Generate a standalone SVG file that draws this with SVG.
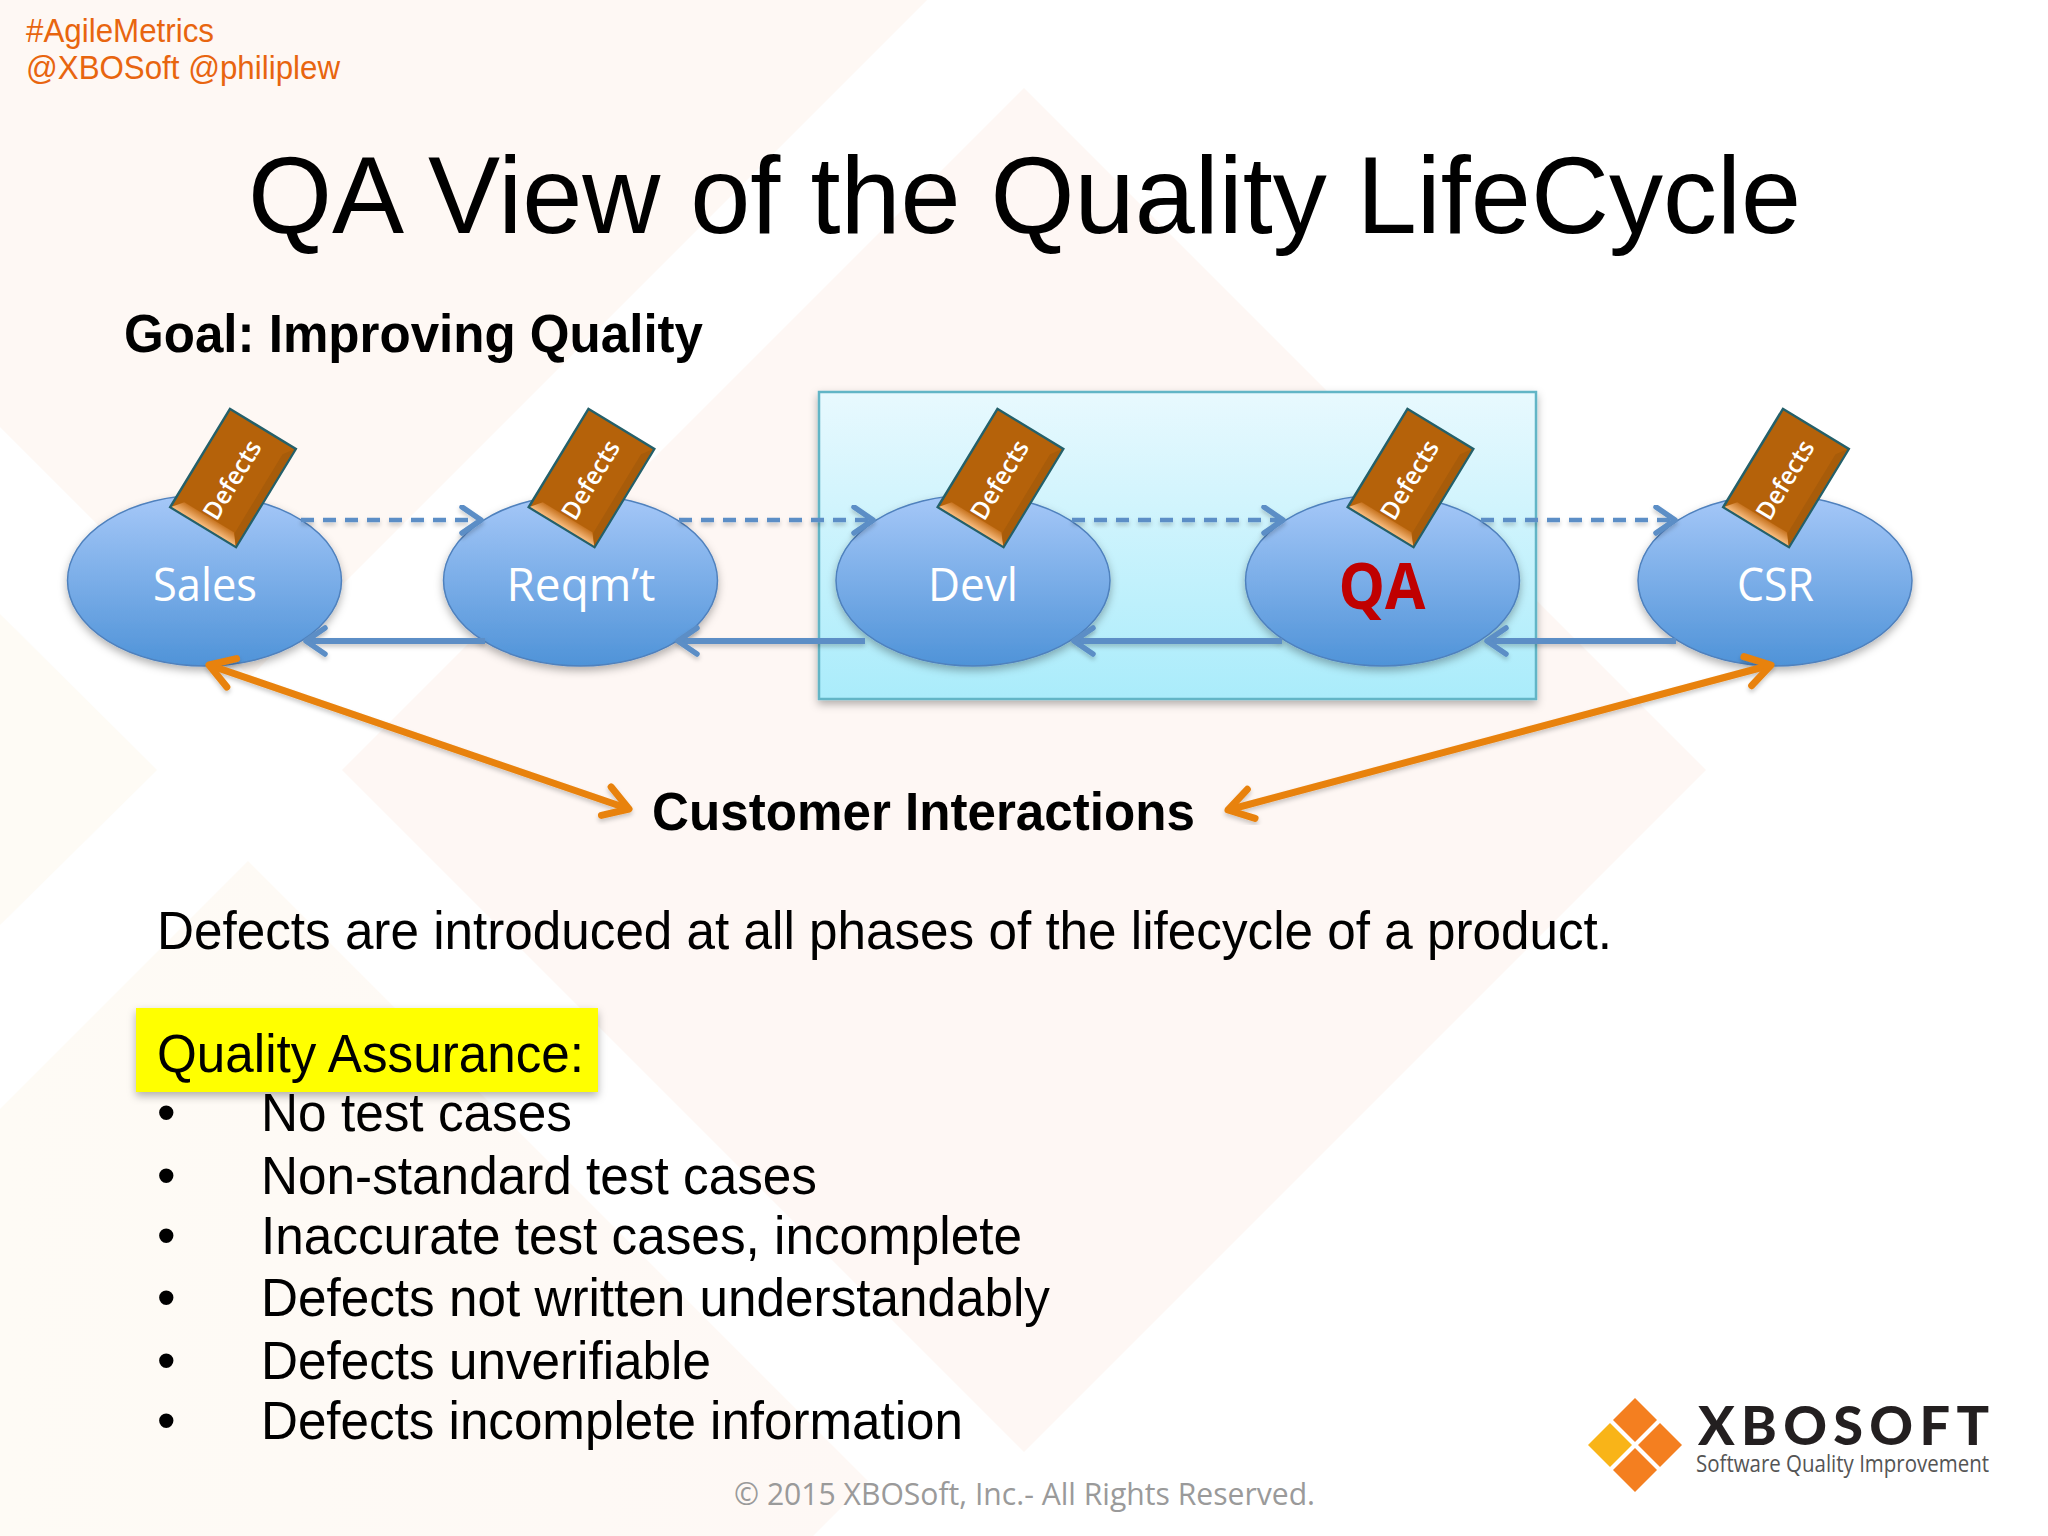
<svg xmlns="http://www.w3.org/2000/svg" width="2048" height="1536" viewBox="0 0 2048 1536">
<style>
.a{font-family:"Liberation Sans",Arial,sans-serif;fill:#000}
.ab{font-family:"Liberation Sans",Arial,sans-serif;font-weight:700;fill:#000}
.b{font-size:53px}
.o{font-family:"Open Sans","Noto Sans",sans-serif}
.oval{fill:url(#ov);stroke:#4f81bd;stroke-width:1.5;filter:url(#sh)}
.lab{font-family:"Open Sans","Noto Sans",sans-serif;font-size:46px;fill:#fff;text-anchor:middle}
.def{font-family:"Open Sans","Noto Sans",sans-serif;font-size:25px;font-weight:600;fill:#fff;text-anchor:middle}
.dash{fill:none;stroke:#5b8ec6;stroke-width:4.5;stroke-dasharray:13 9;marker-end:url(#mb)}
.sol{fill:none;stroke:#5b8ec6;stroke-width:6;marker-end:url(#mb)}
.or{fill:none;stroke:#e8820c;stroke-width:7;marker-start:url(#mo);marker-end:url(#mo)}
</style>
<defs>
<linearGradient id="ov" x1="0" y1="0" x2="0" y2="1"><stop offset="0" stop-color="#a6c8f8"/><stop offset="1" stop-color="#4f93d8"/></linearGradient>
<linearGradient id="bx" x1="0" y1="0" x2="0" y2="1"><stop offset="0" stop-color="#e8f9fe"/><stop offset="1" stop-color="#aaecfb"/></linearGradient>
<linearGradient id="bv" x1="0" y1="0" x2="1" y2="0"><stop offset="0" stop-color="#f8bd80"/><stop offset="1" stop-color="#c87420"/></linearGradient>
<linearGradient id="tint" x1="0" y1="0" x2="1" y2="0"><stop offset="0" stop-color="#fefbf5"/><stop offset="1" stop-color="#fef8f5"/></linearGradient>
<filter id="sh" x="-10%" y="-10%" width="120%" height="125%"><feDropShadow dx="0" dy="4" stdDeviation="4" flood-color="#000" flood-opacity=".3"/></filter>
<filter id="ls" x="-5%" y="-5%" width="110%" height="110%"><feDropShadow dx="0" dy="3" stdDeviation="2" flood-color="#000" flood-opacity=".2"/></filter>
<marker id="mb" markerUnits="userSpaceOnUse" viewBox="-26 -16 30 32" refX="0" refY="0" markerWidth="30" markerHeight="32" orient="auto"><path d="M-19,-13 L0,0 L-19,13" fill="none" stroke="#5b8ec6" stroke-width="5.500" stroke-linejoin="round" stroke-linecap="round"/></marker>
<marker id="mo" markerUnits="userSpaceOnUse" viewBox="-36 -24 42 48" refX="0" refY="0" markerWidth="42" markerHeight="48" orient="auto-start-reverse"><path d="M-24,-15 L0,0 L-24,15" fill="none" stroke="#e8820c" stroke-width="7" stroke-linejoin="round" stroke-linecap="round"/></marker>
<g id="card">
<rect x="-57.500" y="-38.500" width="115" height="77" fill="#b5620a" stroke="#24606a" stroke-width="2.500"/>
<path d="M-56.500,-37.500 L-46,-29 L-46,29 L-56.500,37.500Z" fill="url(#bv)"/>
<path d="M-56.500,37.500 L-46,30 L46,30 L56.500,37.500Z" fill="#a85c0a"/>
</g>
</defs>
<rect width="2048" height="1536" fill="#fff"/>
<g id="background">
<polygon points="0,0 927,0 250,677 0,427" fill="#fef8f4"/>
<polygon points="0,614 157,770 0,925" fill="#fefbf5"/>
<polygon points="1024,88 1706,770 1024,1452 342,770" fill="#fef7f4"/>
<polygon points="248,861 868,1481 813,1536 0,1536 0,1109" fill="url(#tint)"/>
</g>
<g id="header">
<text class="a" x="26" y="42" font-size="33" style="fill:#e8650f" textLength="188" lengthAdjust="spacingAndGlyphs">#AgileMetrics</text>
<text class="a" x="26" y="79" font-size="33" style="fill:#e8650f" textLength="314" lengthAdjust="spacingAndGlyphs">@XBOSoft @philiplew</text>
</g>
<text id="title" class="a" x="248" y="233" font-size="110" textLength="1553" lengthAdjust="spacingAndGlyphs">QA View of the Quality LifeCycle</text>
<text id="goal" class="ab" x="124" y="352" font-size="53" textLength="579" lengthAdjust="spacingAndGlyphs">Goal: Improving Quality</text>
<rect id="scope" x="819" y="392" width="717" height="307" fill="url(#bx)" stroke="#62b5c6" stroke-width="2.500" filter="url(#sh)"/>
<g id="node-sales"><ellipse class="oval" cx="204.500" cy="580.500" rx="137" ry="85.500"/><text class="lab" x="205" y="601" textLength="104" lengthAdjust="spacingAndGlyphs">Sales</text></g>
<g id="node-reqmt"><ellipse class="oval" cx="580.500" cy="580.500" rx="137" ry="85.500"/><text class="lab" x="581" y="601" textLength="149" lengthAdjust="spacingAndGlyphs">Reqm’t</text></g>
<g id="node-devl"><ellipse class="oval" cx="973" cy="580.500" rx="137" ry="85.500"/><text class="lab" x="973" y="601" textLength="90" lengthAdjust="spacingAndGlyphs">Devl</text></g>
<g id="node-qa"><ellipse class="oval" cx="1382.500" cy="580.500" rx="137" ry="85.500"/><text x="1382" y="609" font-family="Open Sans,Noto Sans,sans-serif" font-weight="700" font-size="64" fill="#c00000" text-anchor="middle" textLength="87" lengthAdjust="spacingAndGlyphs">QA</text></g>
<g id="node-csr"><ellipse class="oval" cx="1775" cy="580.500" rx="137" ry="85.500"/><text class="lab" x="1775.500" y="601" textLength="77" lengthAdjust="spacingAndGlyphs">CSR</text></g>
<g id="connectors" filter="url(#ls)">
<path class="dash" d="M301,520H481"/>
<path class="dash" d="M679,520H873"/>
<path class="dash" d="M1072,520H1283"/>
<path class="dash" d="M1481,520H1675"/>
<path class="sol" d="M485,641H306"/>
<path class="sol" d="M865,641H678"/>
<path class="sol" d="M1282,641H1074"/>
<path class="sol" d="M1676,641H1487"/>
<path class="or" d="M209,665L629,809"/>
<path class="or" d="M1771,665L1228,810"/>
</g>
<g id="card-sales" transform="translate(233,478) rotate(-58.700)"><use href="#card"/><text class="def" x="-2" y="9" textLength="88" lengthAdjust="spacingAndGlyphs">Defects</text></g>
<g id="card-reqmt" transform="translate(591.500,478) rotate(-58.700)"><use href="#card"/><text class="def" x="-2" y="9" textLength="88" lengthAdjust="spacingAndGlyphs">Defects</text></g>
<g id="card-devl" transform="translate(1000.500,478) rotate(-58.700)"><use href="#card"/><text class="def" x="-2" y="9" textLength="88" lengthAdjust="spacingAndGlyphs">Defects</text></g>
<g id="card-qa" transform="translate(1410.500,478) rotate(-58.700)"><use href="#card"/><text class="def" x="-2" y="9" textLength="88" lengthAdjust="spacingAndGlyphs">Defects</text></g>
<g id="card-csr" transform="translate(1786,478) rotate(-58.700)"><use href="#card"/><text class="def" x="-2" y="9" textLength="88" lengthAdjust="spacingAndGlyphs">Defects</text></g>
<text id="customer" class="ab" x="652" y="830" font-size="53" textLength="543" lengthAdjust="spacingAndGlyphs">Customer Interactions</text>
<text id="intro" class="a b" x="157" y="949" textLength="1455" lengthAdjust="spacingAndGlyphs">Defects are introduced at all phases of the lifecycle of a product.</text>
<g id="qa-heading">
<rect x="136" y="1008" width="462" height="84" fill="#ffff00" filter="url(#sh)"/>
<text class="a b" x="157" y="1072" textLength="427" lengthAdjust="spacingAndGlyphs">Quality Assurance:</text>
</g>
<g id="bullets">
<text class="a b" x="157" y="1131">•</text><text class="a b" x="261" y="1131" textLength="311" lengthAdjust="spacingAndGlyphs">No test cases</text>
<text class="a b" x="157" y="1194">•</text><text class="a b" x="261" y="1194" textLength="556" lengthAdjust="spacingAndGlyphs">Non-standard test cases</text>
<text class="a b" x="157" y="1254">•</text><text class="a b" x="261" y="1254" textLength="761" lengthAdjust="spacingAndGlyphs">Inaccurate test cases, incomplete</text>
<text class="a b" x="157" y="1316">•</text><text class="a b" x="261" y="1316" textLength="789" lengthAdjust="spacingAndGlyphs">Defects not written understandably</text>
<text class="a b" x="157" y="1379">•</text><text class="a b" x="261" y="1379" textLength="450" lengthAdjust="spacingAndGlyphs">Defects unverifiable</text>
<text class="a b" x="157" y="1439">•</text><text class="a b" x="261" y="1439" textLength="702" lengthAdjust="spacingAndGlyphs">Defects incomplete information</text>
</g>
<text id="footer" class="o" x="734" y="1505" font-size="31" fill="#9a9a9a" textLength="581" lengthAdjust="spacingAndGlyphs">© 2015 XBOSoft, Inc.- All Rights Reserved.</text>
<g id="logo">
<polygon points="1635,1398 1657,1420 1635,1442 1613,1420" fill="#f47f20"/>
<polygon points="1610,1423 1632,1445 1610,1467 1588,1445" fill="#f9b418"/>
<polygon points="1660,1423 1682,1445 1660,1467 1638,1445" fill="#f47f20"/>
<polygon points="1635,1448 1657,1470 1635,1492 1613,1470" fill="#f47f20"/>
<text x="1698" y="1445" font-family="Lato,Liberation Sans,sans-serif" font-weight="900" font-size="54" fill="#231f20" textLength="291" lengthAdjust="spacing">XBOSOFT</text>
<text x="1696" y="1472" font-family="Open Sans,Noto Sans,sans-serif" font-size="24" fill="#555" textLength="293" lengthAdjust="spacingAndGlyphs">Software Quality Improvement</text>
</g>
</svg>
